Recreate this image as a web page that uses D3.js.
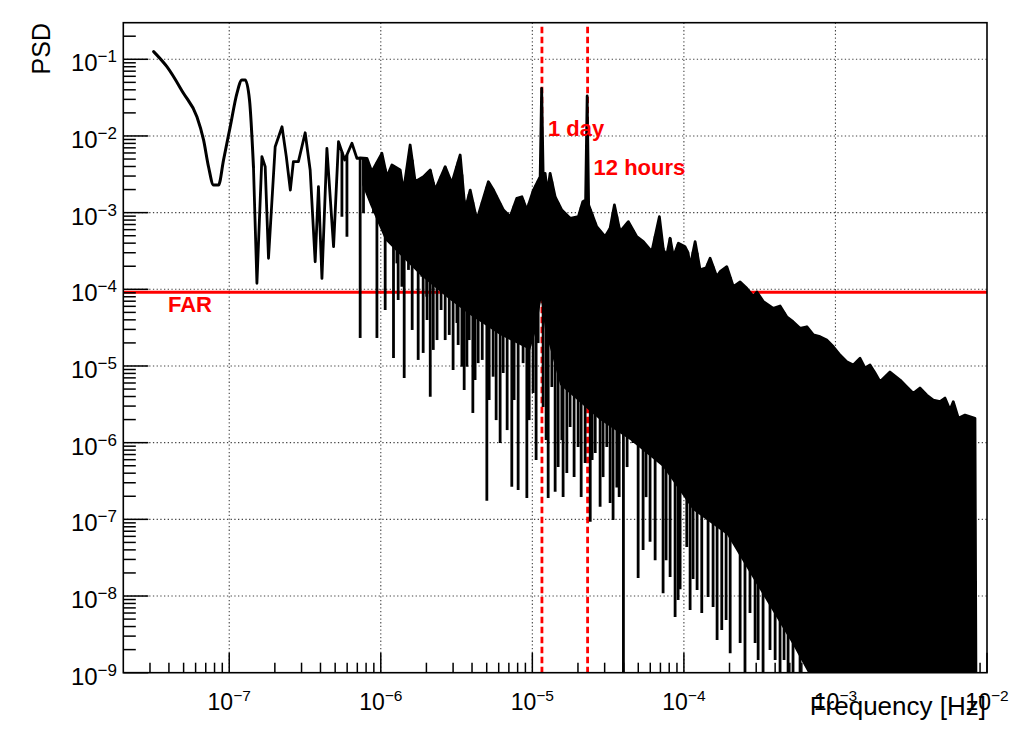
<!DOCTYPE html>
<html><head><meta charset="utf-8">
<script src="https://cdn.jsdelivr.net/npm/d3@7"></script>
<style>body{margin:0;background:#fff}svg{display:block}text{font-family:"Liberation Sans",Arial,Helvetica,sans-serif}</style>
</head><body><svg id="c" width="1013" height="738"></svg>
<script>
// ---------- data ----------
const traceFreq = [3.17e-8,3.88e-8,4.99e-8,6.12e-8,6.77e-8,7.30e-8,7.88e-8,8.50e-8,9.17e-8,1.015e-7,1.124e-7,1.213e-7,1.275e-7,1.361e-7,1.445e-7,1.523e-7,1.643e-7,1.727e-7,1.816e-7,2.01e-7,2.23e-7,2.38e-7,2.53e-7,2.65e-7,2.86e-7,3.17e-7,3.42e-7,3.69e-7,3.88e-7,4.09e-7,4.41e-7,4.88e-7,
5.26e-7,5.78e-7,6.45e-7,6.96e-7,7.31e-7,8.10e-7,8.73e-7,1.017e-6,1.097e-6,1.184e-6,1.343e-6,1.411e-6,1.562e-6,1.686e-6,1.913e-6,2.12e-6,2.285e-6,2.66e-6,2.94e-6,3.34e-6,3.60e-6,3.89e-6,4.30e-6,5.13e-6,5.54e-6,6.45e-6,7.14e-6,7.90e-6,8.53e-6,9.20e-6,1.017e-5,1.126e-5,1.152e-5,1.178e-5,1.214e-5,1.258e-5,1.31e-5,1.414e-5,1.565e-5,1.775e-5,2.013e-5,2.153e-5,2.247e-5,2.30e-5,2.352e-5,2.66e-5,3.02e-5,3.26e-5,3.48e-5,3.79e-5,4.30e-5,4.89e-5,5.40e-5,6.14e-5,6.89e-5,7.32e-5,7.71e-5,8.11e-5,8.53e-5,9.20e-5,1.018e-4,1.066e-4,1.099e-4,1.186e-4,1.279e-4,1.401e-4,1.489e-4,1.648e-4,1.733e-4,1.919e-4,2.12e-4,2.35e-4,2.60e-4,2.87e-4,3.03e-4,3.35e-4,3.89e-4,4.31e-4,4.77e-4,5.25e-4,5.84e-4,6.47e-4,7.15e-4,7.91e-4,8.76e-4,9.69e-4,1.072e-3,1.187e-3,1.312e-3,1.453e-3,1.568e-3,1.691e-3,1.825e-3,1.968e-3,2.29e-3,2.67e-3,2.95e-3,3.26e-3,3.61e-3,4.00e-3,4.42e-3,4.90e-3,5.28e-3,5.70e-3,5.99e-3,6.47e-3,7.16e-3,8.33e-3,8.45e-3];
const tracePsd = [0.126,0.080,0.036,0.0178,8.9e-3,3.97e-3,2.29e-3,2.29e-3,4.86e-3,0.0132,0.036,0.0537,0.0537,0.0294,3.97e-3,1.2e-4,5.37e-3,3.97e-3,2.54e-4,7.24e-3,0.0132,5.37e-3,1.97e-3,4.62e-3,4.62e-3,0.0110,3.6e-3,2.29e-4,2.18e-3,1.39e-4,6.9e-3,3.6e-4,
8.42e-3,4.86e-3,8.03e-3,5.11e-3,5.16e-3,5.11e-3,3.42e-3,5.94e-3,2.94e-3,4.18e-3,3.60e-3,1.875e-3,7.62e-3,2.53e-3,2.94e-3,3.60e-3,1.97e-3,3.97e-3,2.41e-3,5.65e-3,1.08e-3,1.97e-3,8.0e-4,2.53e-3,1.97e-3,1.08e-3,8.85e-4,1.54e-3,1.61e-3,1.08e-3,1.97e-3,2.94e-3,0.0418,3.26e-3,3.26e-3,1.80e-3,3.26e-3,1.61e-3,1.08e-3,8.44e-4,8.85e-4,1.39e-3,1.46e-3,0.0332,1.26e-3,6.56e-4,4.86e-4,6.25e-4,1.26e-3,5.64e-4,7.62e-4,4.86e-4,4.18e-4,3.09e-4,8.85e-4,3.26e-4,2.80e-4,4.63e-4,2.66e-4,3.98e-4,3.59e-4,2.98e-4,1.97e-4,4.18e-4,1.79e-4,1.90e-4,2.54e-4,1.46e-4,1.70e-4,1.97e-4,1.08e-4,1.25e-4,1.03e-4,8.01e-5,9.23e-5,6.89e-5,5.65e-5,6.06e-5,4.39e-5,3.78e-5,3.10e-5,3.25e-5,2.54e-5,2.41e-5,2.18e-5,1.78e-5,1.39e-5,1.14e-5,1.03e-5,1.26e-5,9.41e-6,1.03e-5,8.10e-6,6.24e-6,8.34e-6,6.57e-6,5.37e-6,4.40e-6,5.16e-6,4.18e-6,3.60e-6,3.42e-6,3.82e-6,2.67e-6,3.42e-6,2.08e-6,2.29e-6,2.08e-6,1e-9];

// downward spikes below the upper envelope
const dipFreq = [5.54e-7,5.98e-7,7.31e-7,7.69e-7,8.95e-7,9.43e-7,1.069e-6,1.124e-6,1.213e-6,1.277e-6,1.302e-6,1.378e-6,1.427e-6,1.523e-6,1.611e-6,1.73e-6,1.765e-6,1.866e-6,1.904e-6,2.01e-6,2.02e-6,2.12e-6,2.22e-6,2.35e-6,2.50e-6,2.66e-6,2.83e-6,3.00e-6,3.18e-6,3.24e-6,3.43e-6,3.55e-6,3.70e-6,3.83e-6,4.05e-6,4.19e-6,4.39e-6,4.67e-6,5.01e-6,5.19e-6,5.51e-6,5.77e-6,6.13e-6,6.42e-6,6.82e-6,7.32e-6,7.58e-6,8.06e-6,8.69e-6,9.20e-6,9.53e-6,1.012e-5,1.059e-5,1.092e-5,1.178e-5,1.233e-5,1.272e-5,1.345e-5,1.414e-5,1.48e-5,1.565e-5,1.596e-5,1.689e-5,1.775e-5,1.886e-5,2.005e-5,2.10e-5,2.23e-5,2.41e-5,2.48e-5,2.60e-5,2.80e-5,2.93e-5,3.10e-5,3.26e-5,3.41e-5,3.61e-5,3.74e-5,3.99e-5,4.22e-5,4.62e-5,4.99e-5,5.38e-5,5.63e-5,5.98e-5,6.46e-5,7.29e-5,7.63e-5,8.11e-5,8.75e-5,9.16e-5,9.44e-5,1.045e-4,1.099e-4,1.15e-4,1.222e-4,1.312e-4,1.444e-4,1.558e-4,1.656e-4,1.778e-4,1.899e-4,2.02e-4,2.35e-4,2.53e-4,2.73e-4,2.95e-4,3.09e-4,3.33e-4,3.70e-4,4.00e-4,4.31e-4,4.58e-4,4.87e-4,5.25e-4,5.84e-4];
const dipPsd = [8.85e-4,4.86e-4,2.32e-5,9.8e-4,9.8e-4,2.32e-5,5.37e-5,4.63e-4,1.27e-5,2.18e-4,7.25e-5,1.08e-4,6.97e-6,1.79e-4,2.95e-5,2.66e-4,1.20e-5,1.46e-4,1.48e-5,8.01e-5,3.98e-5,3.97e-6,1.62e-5,2.18e-5,5.37e-5,2.18e-5,2.54e-5,8.86e-6,3.64e-5,1.88e-5,9.78e-6,4.86e-6,9.78e-6,2.18e-5,2.44e-6,6.57e-6,1.09e-5,1.20e-5,1.75e-7,3.60e-6,7.25e-6,1.97e-6,9.9e-7,8.1e-6,1.46e-6,2.66e-7,3.60e-6,2.41e-7,1.09e-5,1.90e-7,1.97e-6,4.44e-6,5.94e-7,1.99e-5,2.92e-6,1.08e-6,1.90e-7,5.32e-6,2.29e-7,4.81e-7,1.08e-6,1.95e-7,4.02e-7,1.60e-6,3.56e-7,8.78e-7,1.95e-7,5.43e-7,9.31e-8,5.94e-7,7.33e-7,1.46e-7,3.56e-7,8.78e-7,1.63e-7,9.8e-8,2.61e-7,1.95e-7,1e-9,4.81e-7,9.9e-7,1.72e-8,3.98e-8,1.95e-7,5.11e-8,2.92e-8,1.09e-8,2.92e-8,1.77e-8,5.32e-9,8.87e-9,1.23e-8,4.35e-8,6.57e-9,1.67e-8,1.20e-8,6.0e-9,9.7e-9,7.2e-9,2.67e-9,3.6e-9,4.86e-9,1.8e-9,2.44e-9,1e-9,6.0e-9,2.44e-9,1.46e-9,1e-9,1.98e-9,1.46e-9,1e-9,1.46e-9,1e-9,1e-9,1e-9];

// lower edge of the densely filled part of the spectrum
const bandFreq = [7.54e-7,8.51e-7,1.069e-6,1.343e-6,1.82e-6,2.87e-6,3.89e-6,6.13e-6,9.67e-6,1.059e-5,1.143e-5,1.214e-5,1.526e-5,2.80e-5,4.42e-5,7.29e-5,1.15e-4,1.93e-4,3.18e-4,5.25e-4,6.60e-4,8.45e-3];
const bandLow = [2.29e-3,1.26e-3,4.40e-4,2.80e-4,1.54e-4,7.25e-5,4.62e-5,2.54e-5,1.62e-5,2.95e-5,7.25e-5,2.95e-5,5.65e-6,1.97e-6,1.08e-6,4.81e-7,1.32e-7,6.24e-8,1.20e-8,2.30e-9,1e-9,1e-9];

const farLevel = 9.14e-5;
const farLabel = "FAR";
const markerFreq = [1.157e-5, 2.315e-5];
const markerLabels = ["1 day", "12 hours"];
const xTickExp = [-7,-6,-5,-4,-3,-2];
const yTickExp = [-9,-8,-7,-6,-5,-4,-3,-2,-1];
const xTitle = "Frequency [Hz]";
const yTitle = "PSD";

(function(){
// ---------- layout ----------
const W=1013,H=738;
const L=123.3,R=987,T=22.7,B=672.7;
const x=d3.scaleLog().domain([2e-8,1e-2]).range([L,R]);
const y=d3.scaleLog().domain([1e-9,0.3]).range([B,T]).clamp(true);
const svg=d3.select('#c');
svg.append('rect').attr('width',W).attr('height',H).attr('fill','#fff');
svg.append('defs').append('clipPath').attr('id','clip')
  .append('rect').attr('x',L).attr('y',T).attr('width',R-L).attr('height',B-T);

// grid
const grid=svg.append('g').attr('stroke','#444').attr('stroke-width',1.1).attr('stroke-dasharray','1.3,2.4');
xTickExp.forEach(e=>{const v=Math.pow(10,e); if(x(v)<R-1) grid.append('line').attr('x1',x(v)).attr('x2',x(v)).attr('y1',T).attr('y2',B);});
yTickExp.forEach(e=>{const v=Math.pow(10,e); if(y(v)<B-1) grid.append('line').attr('x1',L).attr('x2',R).attr('y1',y(v)).attr('y2',y(v));});

// reference lines (under the spectrum)
const refs=svg.append('g').attr('clip-path','url(#clip)');
refs.append('line').attr('x1',L).attr('x2',R).attr('y1',y(farLevel)).attr('y2',y(farLevel))
  .attr('stroke','#f00').attr('stroke-width',3);
markerFreq.forEach(f=>{
  refs.append('line').attr('x1',x(f)).attr('x2',x(f)).attr('y1',T+4).attr('y2',B)
    .attr('stroke','#f00').attr('stroke-width',2.8).attr('stroke-dasharray','6.5,3.5');
});

// spectrum
const data=svg.append('g').attr('clip-path','url(#clip)');
const pts=traceFreq.map((f,i)=>[x(f),y(tracePsd[i])]);
function envY(f){
  const i=Math.max(0,Math.min(traceFreq.length-2,d3.bisectRight(traceFreq,f)-1));
  const f0=traceFreq[i],f1=traceFreq[i+1];
  const t=(Math.log(f)-Math.log(f0))/(Math.log(f1)-Math.log(f0));
  const lp=Math.log(tracePsd[i])+t*(Math.log(tracePsd[i+1])-Math.log(tracePsd[i]));
  return y(Math.exp(lp));
}
// filled band
const bf0=bandFreq[0], bfN=bandFreq[bandFreq.length-1];
const bandTop=[[x(bf0),envY(bf0)]];
traceFreq.forEach((f,i)=>{ if(f>bf0 && f<=bfN) bandTop.push([x(f),y(tracePsd[i])]); });
const bandBottom=bandFreq.map((f,i)=>[x(f),y(bandLow[i])]).reverse();
data.append('path').attr('d',d3.line()(bandTop.concat(bandBottom))+'Z').attr('fill','#000');
// dips
dipFreq.forEach((f,i)=>{
  data.append('line').attr('x1',x(f)).attr('x2',x(f)).attr('y1',envY(f)).attr('y2',Math.min(B+3,y(dipPsd[i])))
    .attr('stroke','#000').attr('stroke-width',2.8);
});
// trace: smooth resolved part, then straight segments
const nSmooth=15;
data.append('path').attr('d',d3.line().curve(d3.curveMonotoneX)(pts.slice(0,nSmooth)))
  .attr('fill','none').attr('stroke','#000').attr('stroke-width',3).attr('stroke-linecap','round');
data.append('path').attr('d',d3.line()(pts.slice(nSmooth-1))).attr('fill','none').attr('stroke','#000')
  .attr('stroke-width',2.8).attr('stroke-linejoin','round');

// frame & ticks
const ax=svg.append('g').attr('stroke','#000');
ax.append('rect').attr('x',L).attr('y',T).attr('width',R-L).attr('height',B-T).attr('fill','none').attr('stroke-width',1.6);
for(let e=-10;e<=0;e++){
  for(let m=1;m<=9;m++){
    const v=m*Math.pow(10,e);
    if(v>=1e-9*0.999 && v<0.3*0.999){
      const len=(m===1)?25:12.5;
      ax.append('line').attr('x1',L).attr('x2',L+len).attr('y1',y(v)).attr('y2',y(v)).attr('stroke-width',1.5);
    }
    if(v>2e-8*1.001 && v<=1e-2*1.001){
      const len=(m===1)?20:10;
      ax.append('line').attr('x1',x(v)).attr('x2',x(v)).attr('y1',B).attr('y2',B-len).attr('stroke-width',1.5);
    }
  }
}
// tick labels
function powLabel(sel,e,sup){
  sel.append('tspan').text('10');
  sel.append('tspan').attr('font-size',sup).attr('dy',-9).text('\u2212'+Math.abs(e));
}
yTickExp.forEach(e=>{
  const t=svg.append('text').attr('x',117).attr('y',y(Math.pow(10,e))+12).attr('font-size',24).attr('text-anchor','end').attr('fill','#000');
  powLabel(t,e,17);
});
xTickExp.forEach(e=>{
  const t=svg.append('text').attr('x',x(Math.pow(10,e))).attr('y',710).attr('font-size',23).attr('text-anchor','middle').attr('fill','#000');
  powLabel(t,e,15.5);
});
// titles
svg.append('text').attr('x',986).attr('y',715).attr('font-size',26).attr('text-anchor','end').text(xTitle);
svg.append('text').attr('transform','translate(50,23) rotate(-90)').attr('font-size',25).attr('text-anchor','end').text(yTitle);

// red annotations
svg.append('text').attr('x',168).attr('y',312).attr('font-size',22).attr('font-weight','bold').attr('fill','#f00').text(farLabel);
const labelY=[136,175];
markerFreq.forEach((f,i)=>{
  svg.append('text').attr('x',x(f)+6).attr('y',labelY[i]).attr('font-size',22).attr('font-weight','bold').attr('fill','#f00').text(markerLabels[i]);
});
})();
</script></body></html>
